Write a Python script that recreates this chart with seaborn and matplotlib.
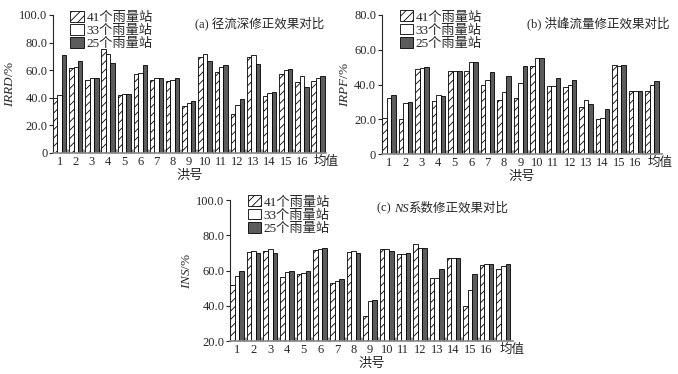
import numpy as np
import pandas as pd
import seaborn as sns
import matplotlib.pyplot as plt
import matplotlib.transforms as mtransforms

groups = [str(i) for i in range(1, 17)] + ["均值"]
series = ["41个雨量站", "33个雨量站", "25个雨量站"]

# (a) IRRD
irrd_41 = [40, 61.5, 53, 75, 42, 57, 53, 52.5, 34, 69.5, 59, 28, 69.5, 41, 57.5, 51.5, 52.5]
irrd_33 = [42, 62, 54, 72, 43, 58, 54, 53, 36.5, 71.5, 62.5, 34.5, 71, 43.5, 60, 55.5, 54.5]
irrd_25 = [71, 67, 54.5, 65, 43, 64, 54.5, 54, 38, 67, 64, 39, 64.5, 44.5, 61, 48, 56]

# (b) IRPF
irpf_41 = [20.5, 20, 49, 30.5, 47.5, 47.5, 40, 31, 32, 50.5, 39, 38.5, 27, 20, 51, 36, 36]
irpf_33 = [32, 29.5, 49.5, 34, 48, 53, 42.5, 35.5, 41, 55.5, 39, 40, 31, 21, 50.5, 36, 40]
irpf_25 = [34, 30, 50, 33.5, 47.5, 53, 47, 45, 50.5, 55, 43.5, 42.5, 29, 26, 51.5, 36.5, 42]

# (c) INS
ins_41 = [52, 70.5, 71, 56.5, 58, 71.5, 53, 70.5, 34.5, 72, 69.5, 75, 56, 67, 40, 63, 61]
ins_33 = [57, 71, 72, 59, 58.5, 72, 54, 71, 43, 72, 69.5, 73, 56, 67, 49, 64, 62.5]
ins_25 = [60, 70, 70, 60, 59.5, 73, 55, 70, 43.5, 71, 70, 73, 61, 67, 58, 63.5, 64]

sns.set_theme(style="ticks")
fam = ["Liberation Serif", "Noto Sans CJK SC"]
plt.rcParams["font.family"] = fam
plt.rcParams["mathtext.fontset"] = "custom"
plt.rcParams["mathtext.rm"] = "Liberation Serif"
plt.rcParams["mathtext.it"] = "Liberation Serif:italic"
plt.rcParams["hatch.linewidth"] = 0.6

fig = plt.figure(figsize=(6.78, 3.74), dpi=100)


def long_df(a, b, c):
    rows = []
    for name, vals in zip(series, [a, b, c]):
        for g, v in zip(groups, vals):
            rows.append({"洪号": g, "站": name, "值": v})
    return pd.DataFrame(rows)


def panel(rect, a, b, c, ylim, ylab, xlim, title_parts):
    ax = fig.add_axes(rect)
    df = long_df(a, b, c)
    sns.barplot(data=df, x="洪号", y="值", hue="站", order=groups, hue_order=series,
                palette=["white", "white", "#5c5c5c"], width=0.82,
                edgecolor="black", linewidth=0.6, legend=False, ax=ax)
    for p in ax.containers[0]:
        p.set_hatch("////")
    ax.set_ylim(*ylim)
    ax.set_xlim(*xlim)
    ticks = np.arange(ylim[0], ylim[1] + 0.1, 20)
    ax.set_yticks(ticks)
    ax.set_yticklabels(["0" if t == 0 else f"{t:.1f}" for t in ticks])
    ax.set_xticks(range(len(groups)))
    ax.set_xticklabels(groups)
    ax.set_xticks(np.arange(0.5, len(groups) - 0.5, 1), minor=True)
    ax.tick_params(axis="x", which="major", length=0, pad=2, labelsize=9)
    ax.tick_params(axis="x", which="minor", direction="in", length=3, color="#999999", width=2)
    ax.tick_params(axis="y", length=3, width=0.8, pad=1, labelsize=9)
    # nudge the last label right, as in the original
    lab = ax.get_xticklabels()[-1]
    lab.set_transform(lab.get_transform() + mtransforms.ScaledTranslation(6 / 72, 0, fig.dpi_scale_trans))
    sns.despine(ax=ax)
    ax.spines["left"].set_linewidth(0.8)
    ax.spines["bottom"].set_color("#888888")
    ax.spines["bottom"].set_linewidth(1.2)
    ax.set_xlabel("洪号", fontsize=9.5, labelpad=1)
    ax.set_ylabel(ylab, fontsize=9.5, labelpad=2)
    ax.legend(handles=ax.containers, labels=series, loc="upper left",
              bbox_to_anchor=(0.045, 1.07), frameon=False, fontsize=9.5,
              handlelength=1.0, handleheight=0.9, labelspacing=0.0,
              handletextpad=0.2, borderaxespad=0)
    # title, with an italic part
    t = ax.text(0.52, 0.94, title_parts[0], transform=ax.transAxes, fontsize=9,
                ha="left", va="center", family=fam)
    prev = t
    for i, part in enumerate(title_parts[1:]):
        style = "italic" if i % 2 == 0 else "normal"
        prev = ax.annotate(part, xy=(1, 0.5), xycoords=prev, va="center", ha="left",
                           fontsize=9, fontstyle=style, family=fam)
    return ax


panel([0.078, 0.591, 0.403, 0.369], irrd_41, irrd_33, irrd_25, (0, 100),
      r"$\mathit{IRRD}$/%", (-0.42, 16.5), ["(a) 径流深修正效果对比"])
panel([0.563, 0.588, 0.413, 0.372], irpf_41, irpf_33, irpf_25, (0, 80),
      r"$\mathit{IRPF}$/%", (-0.45, 16.6), ["(b) 洪峰流量修正效果对比"])
panel([0.339, 0.088, 0.418, 0.377], ins_41, ins_33, ins_25, (20, 100),
      r"$\mathit{INS}$/%", (-0.43, 16.6), ["(c) ", "NS", "系数修正效果对比"])

fig.savefig("out.png", dpi=100)
